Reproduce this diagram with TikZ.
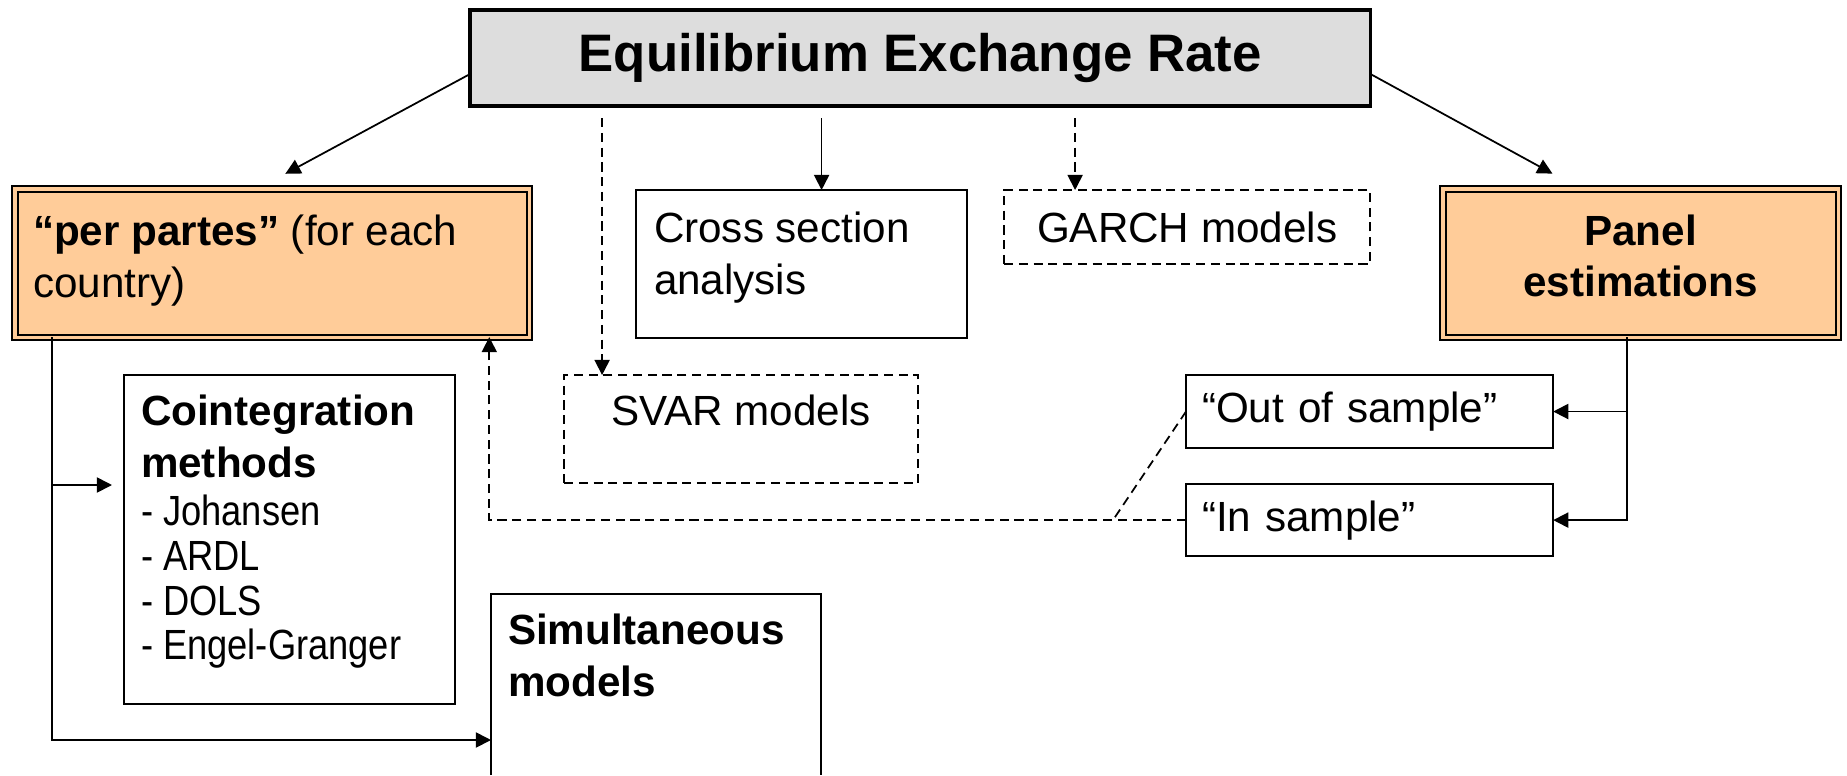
\documentclass[tikz,border=0pt]{standalone}
\usepackage{fontspec}
\setmainfont{Liberation Sans}
\newfontfamily\narrowlist[FakeStretch=0.86]{Liberation Sans}
\usepackage{xcolor}
\usetikzlibrary{arrows.meta, positioning, calc}

\definecolor{peach}{RGB}{255,204,153}
\definecolor{titlegray}{RGB}{221,221,221}

\begin{document}
\begin{tikzpicture}[
  x=0.01cm, y=-0.01cm,
  every node/.style={font=\fontsize{12}{14.8}\selectfont, outer sep=0pt},
  solidbox/.style={rectangle, draw, line width=0.7pt, anchor=north west},
  dblbox/.style={solidbox, fill=peach, line width=0.55pt, double=peach, double distance=0.9pt},
  dashbox/.style={solidbox, line width=0.6pt, dash pattern=on 2.6pt off 1.6pt},
  arr/.style={-{Triangle[length=4.3pt, width=4.3pt]}, line width=0.5pt},
  darr/.style={arr, dash pattern=on 2.6pt off 1.6pt},
]
\useasboundingbox (0,0) rectangle (1847,775);

% Title
\node[solidbox, fill=titlegray, line width=1pt, minimum width=9cm, minimum height=0.96cm, align=center, font=\fontsize{15}{18}\selectfont\bfseries] (title) at (470,10) {Equilibrium Exchange Rate};

% First row
\node[dblbox, inner xsep=0.18cm, inner ysep=0.26cm] (perpartes) at (15,189) {\parbox[t][0.96cm][t]{4.78cm}{\textbf{“per partes”} (for each\\country)}};
\node[solidbox, inner xsep=0.18cm, inner ysep=0.22cm] (cross) at (636,190) {\parbox[t][1.04cm][t]{2.95cm}{Cross section\\analysis}};
\node[dashbox, minimum width=3.66cm, minimum height=0.74cm] (garch) at (1004,190) {GARCH models};
\node[dblbox, inner xsep=0.1cm, inner ysep=0.26cm] (panel) at (1443,189) {\parbox[t][0.96cm][t]{3.75cm}{\centering\bfseries\fontsize{12}{14.4}\selectfont Panel\\estimations}};

% Second row
\node[solidbox, inner xsep=0.17cm, inner ysep=0.2cm] (coint) at (124,375) {\parbox[t][2.89cm][t]{2.97cm}{{\bfseries Cointegration\\methods}\\[-1.1pt]{\narrowlist - Johansen\\[-2.1pt]- ARDL\\[-2.1pt]- DOLS\\[-2.1pt]- Engel-Granger}}};
\node[dashbox, inner xsep=0.1cm, inner ysep=0.2cm] (svar) at (564,375) {\parbox[t][0.68cm][t]{3.34cm}{\centering SVAR models}};
\node[solidbox, minimum height=0.73cm, text width=3.35cm, inner xsep=0.16cm, align=left] (outsample) at (1186,375) {“Out of sample”};
\node[solidbox, minimum height=0.72cm, text width=3.35cm, inner xsep=0.16cm, align=left, below=0.36cm of outsample] (insample) {“In sample”};

% Bottom box, cut by the page edge
\node[anchor=north west, inner xsep=0.17cm, inner ysep=0.2cm] (simul) at (491,594) {\parbox[t][1.41cm][t]{2.96cm}{\bfseries Simultaneous\\models}};
\draw[line width=0.7pt] (simul.south west) |- (simul.north east) -- (simul.south east);

% Arrows from the title
\coordinate (csTop) at ($(cross.north)+(20,0)$);
\coordinate (svTop) at ($(svar.north)+(-139,0)$);
\coordinate (gaTop) at ($(garch.north)+(-112,0)$);
\draw[arr, shorten >=0.32cm] ([yshift=-0.16cm]title.west) -- ([xshift=-0.15cm]perpartes.north);
\draw[arr, shorten >=0.32cm] ([yshift=-0.16cm]title.east) -- ([xshift=-0.6cm]panel.north);
\draw[arr, shorten <=0.12cm] (csTop |- title.south) -- (csTop);
\draw[darr, shorten <=0.12cm] (svTop |- title.south) -- (svTop);
\draw[darr, shorten <=0.12cm] (gaTop |- title.south) -- (gaTop);

% per partes branches
\coordinate (ppDown) at ($(perpartes.south west)+(37,0)$);
\coordinate (ciIn) at ($(coint.north west)+(0,110)$);
\coordinate (smIn) at ($(simul.north west)+(0,146)$);
\draw[arr] (ppDown) |- (smIn);
\draw[arr, shorten >=0.12cm] (ppDown |- ciIn) -- (ciIn);

% panel branches
\coordinate (pnDown) at ($(panel.south)+(-14,0)$);
\draw[arr] (pnDown) |- (insample.east);
\draw[arr] (pnDown |- outsample.east) -- (outsample.east);

% dashed feedback
\coordinate (ppUp) at ($(perpartes.south east)+(-40,0)$);
\coordinate (jn) at ($(insample.west)+(-73,0)$);
\draw[darr] (insample.west) -| (ppUp);
\draw[line width=0.5pt, dash pattern=on 2.6pt off 1.6pt] (outsample.west) -- (jn);

\end{tikzpicture}
\end{document}
